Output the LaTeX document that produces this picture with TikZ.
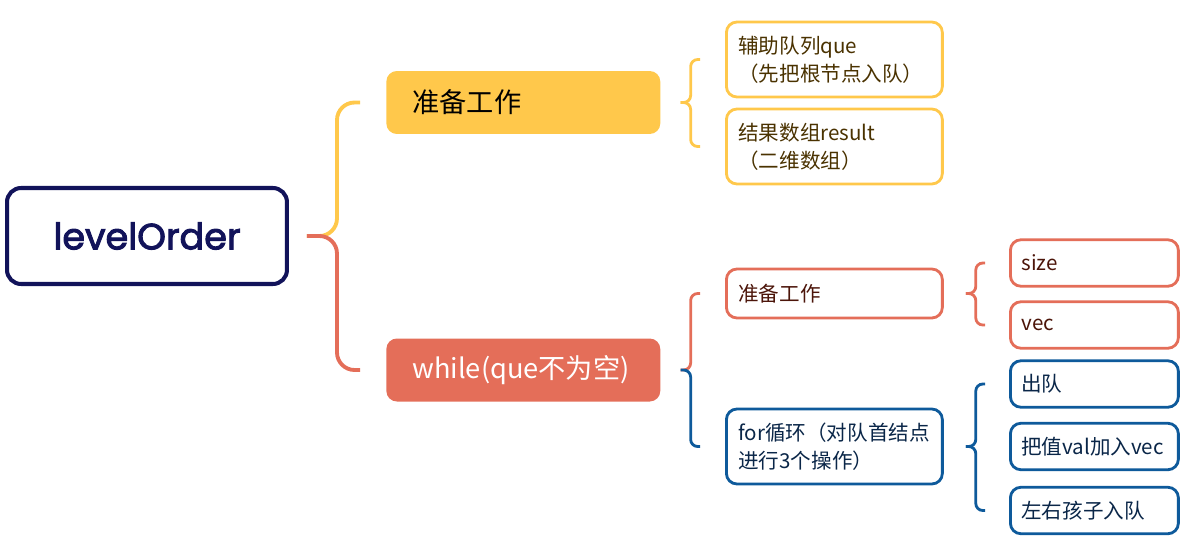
\documentclass[tikz,border=0pt]{standalone}
\usepackage{fontspec}
\setmainfont{Noto Sans CJK SC}
\newfontfamily\popfont{Poppins}[FakeBold=2.6]
\usetikzlibrary{positioning,calc}

\definecolor{navy}{HTML}{12135A}
\definecolor{gold}{HTML}{FFC84B}
\definecolor{coral}{HTML}{E46E59}
\definecolor{ocean}{HTML}{0E5A9B}
\definecolor{goldtext}{HTML}{4A3200}
\definecolor{coraltext}{HTML}{4C150A}
\definecolor{oceantext}{HTML}{0A2648}

\tikzset{
  topic/.style={rounded corners=6pt, minimum height=1.26cm, text width=4.44cm,
    inner xsep=0.52cm, anchor=west, font=\fontsize{15.5}{18}\selectfont},
  leaf/.style={draw=#1, fill=white, line width=1.6pt, rounded corners=6pt,
    align=left, anchor=west, font=\fontsize{11.7}{16}\selectfont},
  midleaf/.style={leaf=#1, text width=3.84cm, inner xsep=0.24cm},
  endleaf/.style={leaf=#1, text width=2.92cm, inner xsep=0.22cm, minimum height=0.93cm},
  link/.style={line width=1.6pt, rounded corners=4pt},
}

\begin{document}
\begin{tikzpicture}[x=0.02cm, y=-0.02cm]
    \useasboundingbox (0,0) rectangle (1187,555);

    % Root
    \node[draw=navy, line width=2.3pt, rounded corners=8pt, minimum width=5.6cm,
          minimum height=1.92cm, anchor=west, text=navy,
          font=\popfont\fontsize{20.8}{24}\selectfont] (root) at (5,236) {levelOrder};

    % First level
    \node[topic, fill=gold, text=black] (prep) at (386,102.5) {准备工作};
    \node[topic, fill=coral, text=white] (loop) at (386,370) {while(que不为空)};

    % Second level
    \node[midleaf=gold, text=goldtext, minimum height=1.5cm] (aux) at (725,59.5) {辅助队列que\\（先把根节点入队）};
    \node[midleaf=gold, text=goldtext, minimum height=1.5cm] (res) at (725,146.5) {结果数组result\\（二维数组）};
    \node[midleaf=coral, text=coraltext, minimum height=0.98cm] (init) at (725,293.5) {准备工作};
    \node[midleaf=ocean, text=oceantext, minimum height=1.5cm] (body) at (725,446.5) {for循环（对队首结点\\进行3个操作）};

    % Third level
    \node[endleaf=coral, text=coraltext] (size) at (1009,263) {size};
    \node[endleaf=coral, text=coraltext] (vec) at (1009,325) {vec};
    \node[endleaf=ocean, text=oceantext] (pop) at (1009,384) {出队};
    \node[endleaf=ocean, text=oceantext] (push) at (1009,446.5) {把值val加入vec};
    \node[endleaf=ocean, text=oceantext] (kids) at (1009,510.5) {左右孩子入队};

    % Brace points
    \coordinate (rtip) at ($(root.east)+(18,0)$);
    \coordinate (ptop) at ($(prep.west)+(-26,0)$);
    \coordinate (lbot) at ($(loop.west)+(-26,0)$);
    \coordinate (ptip) at ($(prep.east)+(20,0)$);
    \coordinate (ltip) at ($(loop.east)+(20,0)$);
    \coordinate (itip) at ($(init.east)+(22,0)$);
    \coordinate (btip) at ($(body.east)+(22,0)$);

    % Root connectors
    \draw[link, gold, line width=2.2pt, rounded corners=10pt] (ptop) -| ($(rtip)+(30,0)$) -- (rtip);
    \draw[link, coral, line width=2.2pt, rounded corners=10pt] (lbot) -| ($(rtip)+(30,0)$) -- (rtip);

    % Braces
    \draw[link, gold] ($(aux.west)+(-25,0)$) -| ($(ptip)+(10,0)$) -- (ptip);
    \draw[link, gold] ($(res.west)+(-25,0)$) -| ($(ptip)+(10,0)$) -- (ptip);
    \draw[link, coral] ($(init.west)+(-25,0)$) -| ($(ltip)+(10,0)$) -- (ltip);
    \draw[link, ocean] ($(body.west)+(-25,0)$) -| ($(ltip)+(10,0)$) -- (ltip);
    \draw[link, coral] ($(size.west)+(-24,0)$) -| ($(itip)+(10,0)$) -- (itip);
    \draw[link, coral] ($(vec.west)+(-24,0)$) -| ($(itip)+(10,0)$) -- (itip);
    \draw[link, ocean] ($(pop.west)+(-24,0)$) -| ($(btip)+(10,0)$) -- (btip);
    \draw[link, ocean] ($(kids.west)+(-24,0)$) -| ($(btip)+(10,0)$) -- (btip);
\end{tikzpicture}
\end{document}
